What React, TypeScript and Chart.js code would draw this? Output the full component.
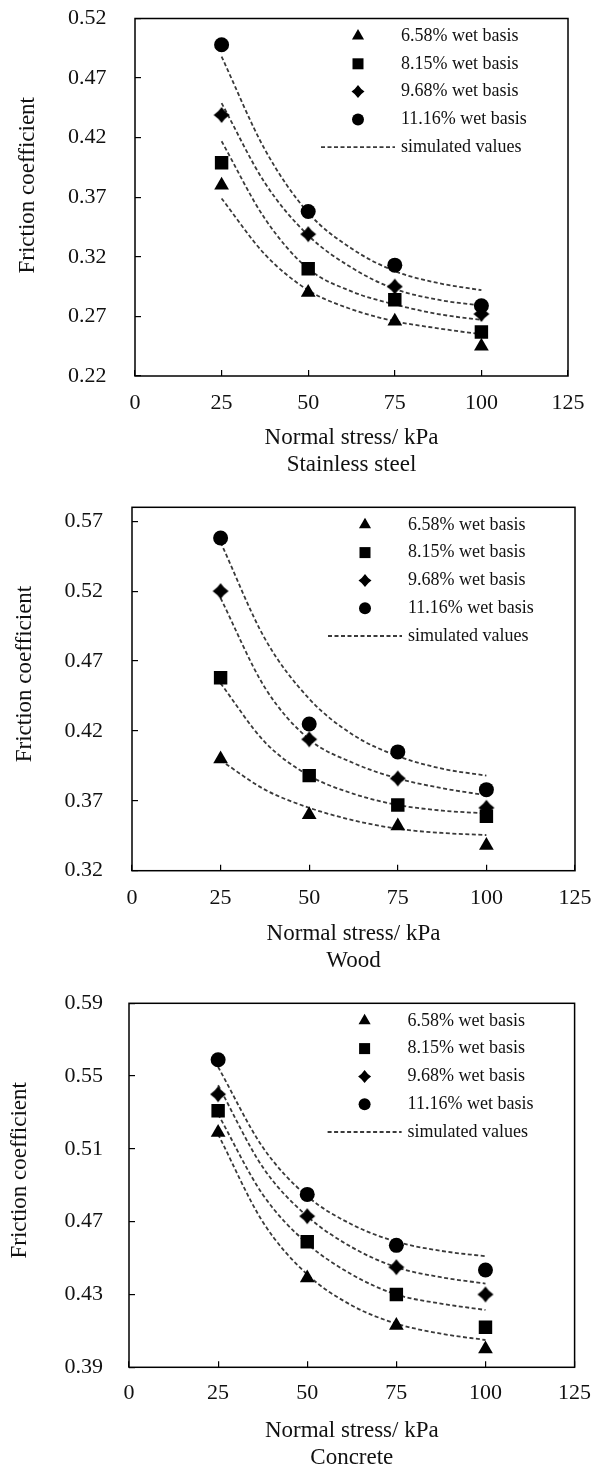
import React, { useEffect, useRef } from 'react';
import { Chart, registerables } from 'chart.js';

Chart.register(...registerables);

// ---------- data ----------
const stressX = [25, 50, 75, 100];
const simStressX = [25, 37.5, 50, 62.5, 75, 87.5, 100];
const xTickValues = [0, 25, 50, 75, 100, 125];
const seriesLabels = ['6.58% wet basis', '8.15% wet basis', '9.68% wet basis', '11.16% wet basis'];
const simLabel = 'simulated values';
const xTitle = 'Normal stress/ kPa';
const yTitle = 'Friction coefficient';

// Stainless steel
const steelYTicks = [0.22, 0.27, 0.32, 0.37, 0.42, 0.47, 0.52];
const steel658 = [0.38, 0.29, 0.266, 0.245];
const steel815 = [0.399, 0.31, 0.284, 0.257];
const steel968 = [0.439, 0.339, 0.295, 0.272];
const steel1116 = [0.498, 0.358, 0.313, 0.279];
const steelSim658 = [0.369, 0.322, 0.292, 0.276, 0.266, 0.26, 0.255];
const steelSim815 = [0.417, 0.352, 0.31, 0.291, 0.28, 0.272, 0.267];
const steelSim968 = [0.449, 0.382, 0.338, 0.311, 0.293, 0.284, 0.279];
const steelSim1116 = [0.488, 0.41, 0.357, 0.327, 0.308, 0.298, 0.292];

// Wood
const woodYTicks = [0.32, 0.37, 0.42, 0.47, 0.52, 0.57];
const wood658 = [0.4, 0.36, 0.352, 0.338];
const wood815 = [0.458, 0.388, 0.367, 0.359];
const wood968 = [0.52, 0.414, 0.386, 0.365];
const wood1116 = [0.558, 0.425, 0.405, 0.378];
const woodSim658 = [0.399, 0.378, 0.365, 0.356, 0.35, 0.347, 0.3455];
const woodSim815 = [0.454, 0.412, 0.388, 0.375, 0.367, 0.363, 0.361];
const woodSim968 = [0.515, 0.451, 0.414, 0.397, 0.386, 0.379, 0.374];
const woodSim1116 = [0.555, 0.486, 0.443, 0.417, 0.402, 0.393, 0.388];

// Concrete
const concreteYTicks = [0.39, 0.43, 0.47, 0.51, 0.55, 0.59];
const concrete658 = [0.519, 0.439, 0.413, 0.4];
const concrete815 = [0.531, 0.459, 0.43, 0.412];
const concrete968 = [0.54, 0.473, 0.445, 0.43];
const concrete1116 = [0.559, 0.485, 0.457, 0.4435];
const concreteSim658 = [0.518, 0.47, 0.441, 0.424, 0.414, 0.4085, 0.405];
const concreteSim815 = [0.529, 0.485, 0.458, 0.441, 0.43, 0.425, 0.4215];
const concreteSim968 = [0.545, 0.5, 0.473, 0.456, 0.445, 0.4395, 0.436];
const concreteSim1116 = [0.555, 0.511, 0.484, 0.4685, 0.459, 0.454, 0.451];

// ---------- panels (layout) ----------
const panels = [
  {
    key: 'steel', material: 'Stainless steel', yTicks: steelYTicks, yMin: 0.22, yMax: 0.52,
    points: [steel658, steel815, steel968, steel1116],
    sims: [steelSim658, steelSim815, steelSim968, steelSim1116],
    top: 0, height: 480, padTop: 18.5, padRight: 26, yWidth: 135, xHeight: 104,
    xTickPad: 19.8, xTitlePadBottom: 1.5, yTickPad: 34.5, yTitleX: 28, yTitleShift: -12,
  },
  {
    key: 'wood', material: 'Wood', yTicks: woodYTicks, yMin: 0.32, yMax: 0.58,
    points: [wood658, wood815, wood968, wood1116],
    sims: [woodSim658, woodSim815, woodSim968, woodSim1116],
    top: 480, height: 500, padTop: 27.3, padRight: 19, yWidth: 132, xHeight: 109.3,
    xTickPad: 20.1, xTitlePadBottom: 5.5, yTickPad: 35, yTitleX: 25, yTitleShift: -15,
  },
  {
    key: 'concrete', material: 'Concrete', yTicks: concreteYTicks, yMin: 0.39, yMax: 0.59,
    points: [concrete658, concrete815, concrete968, concrete1116],
    sims: [concreteSim658, concreteSim815, concreteSim968, concreteSim1116],
    top: 980, height: 487, padTop: 23.3, padRight: 19.4, yWidth: 129, xHeight: 99.7,
    xTickPad: 18.5, xTitlePadBottom: -4, yTickPad: 32, yTitleX: 20, yTitleShift: -15,
  },
];

const FONT = "'Liberation Serif', 'Times New Roman', serif";
const TEXT = '#111';
const SIM_COLOR = '#3a3a3a';
const markerKinds = ['triangle', 'rect', 'star', 'circle'];
const pointRadii = [8.5, 9.5, 8, 7.5];
const legendRadii = [7, 5.5, 6.5, 6];

function starPath(ctx: CanvasRenderingContext2D, x: number, y: number, r: number) {
  const k = r * 0.4;
  ctx.moveTo(x, y - r);
  ctx.quadraticCurveTo(x + k, y - k, x + r, y);
  ctx.quadraticCurveTo(x + k, y + k, x, y + r);
  ctx.quadraticCurveTo(x - k, y + k, x - r, y);
  ctx.quadraticCurveTo(x - k, y - k, x, y - r);
  ctx.closePath();
}

function makeStarCanvas(r: number): HTMLCanvasElement {
  const c = document.createElement('canvas');
  const size = Math.ceil(2 * r + 2);
  c.width = size;
  c.height = size;
  const ctx = c.getContext('2d') as CanvasRenderingContext2D;
  ctx.fillStyle = '#000';
  ctx.beginPath();
  starPath(ctx, size / 2, size / 2, r);
  ctx.fill();
  return c;
}

function drawMarker(ctx: CanvasRenderingContext2D, style: string, x: number, y: number, r: number) {
  ctx.beginPath();
  if (style === 'triangle') {
    ctx.moveTo(x, y - r);
    ctx.lineTo(x + 0.866 * r, y + 0.5 * r);
    ctx.lineTo(x - 0.866 * r, y + 0.5 * r);
    ctx.closePath();
  } else if (style === 'rect') {
    ctx.rect(x - r, y - r, 2 * r, 2 * r);
  } else if (style === 'star') {
    starPath(ctx, x, y, r);
  } else {
    ctx.arc(x, y, r, 0, Math.PI * 2);
  }
  ctx.fill();
}

function makeFramePlugin(p: any) {
  return {
    id: 'frameLegend',
    afterDraw(chart: any) {
      const { ctx, chartArea: a } = chart;
      ctx.save();
      ctx.strokeStyle = '#000';
      ctx.lineWidth = 1.5;
      ctx.strokeRect(a.left, a.top, a.right - a.left, a.bottom - a.top);

      // y axis title
      ctx.save();
      ctx.translate(p.yTitleX, (a.top + a.bottom) / 2 + p.yTitleShift);
      ctx.rotate(-Math.PI / 2);
      ctx.fillStyle = TEXT;
      ctx.font = `23px ${FONT}`;
      ctx.textAlign = 'center';
      ctx.textBaseline = 'middle';
      ctx.fillText(yTitle, 0, 0);
      ctx.restore();

      // legend
      const mx = a.right - 210;
      const tx = a.right - 167;
      ctx.font = `18px ${FONT}`;
      ctx.textAlign = 'left';
      ctx.textBaseline = 'middle';
      for (let i = 0; i < 4; i++) {
        const y = a.top + 17.5 + 27.8 * i;
        ctx.fillStyle = '#000';
        drawMarker(ctx, markerKinds[i], mx, y, legendRadii[i]);
        ctx.fillStyle = TEXT;
        ctx.fillText(seriesLabels[i], tx, y);
      }
      const y = a.top + 17.5 + 27.8 * 4;
      ctx.strokeStyle = SIM_COLOR;
      ctx.lineWidth = 1.8;
      ctx.setLineDash([4, 2.5]);
      ctx.beginPath();
      ctx.moveTo(a.right - 247, y);
      ctx.lineTo(a.right - 173, y);
      ctx.stroke();
      ctx.setLineDash([]);
      ctx.fillStyle = TEXT;
      ctx.fillText(simLabel, tx, y);
      ctx.restore();
    },
  };
}

function buildConfig(p: any): any {
  const starImg = makeStarCanvas(pointRadii[2]);
  const pointStyles: any[] = ['triangle', 'rect', starImg, 'circle'];
  const datasets: any[] = [];
  p.points.forEach((ys: number[], i: number) => {
    datasets.push({
      label: seriesLabels[i],
      data: stressX.map((x, j) => ({ x, y: ys[j] })),
      pointStyle: pointStyles[i],
      pointRadius: pointRadii[i],
      backgroundColor: '#000',
      borderColor: '#000',
      borderWidth: 0,
      showLine: false,
      order: 0,
    });
  });
  p.sims.forEach((ys: number[]) => {
    datasets.push({
      label: simLabel,
      data: simStressX.map((x, j) => ({ x, y: ys[j] })),
      showLine: true,
      borderColor: SIM_COLOR,
      borderWidth: 1.8,
      borderDash: [4, 2.5],
      pointRadius: 0,
      cubicInterpolationMode: 'monotone',
      fill: false,
      order: 1,
    });
  });

  const tickGrid = {
    display: true,
    drawOnChartArea: false,
    drawTicks: true,
    tickLength: -6,
    color: '#000',
    lineWidth: 1.2,
  };

  return {
    type: 'scatter',
    data: { datasets },
    plugins: [makeFramePlugin(p)],
    options: {
      responsive: false,
      animation: false,
      events: [],
      layout: { padding: { top: p.padTop, right: p.padRight, left: 0, bottom: 0 } },
      plugins: {
        legend: { display: false },
        tooltip: { enabled: false },
        title: { display: false },
      },
      scales: {
        x: {
          type: 'linear',
          position: 'bottom',
          min: 0,
          max: 125,
          afterBuildTicks: (s: any) => {
            s.ticks = xTickValues.map((v) => ({ value: v }));
          },
          afterFit: (s: any) => {
            s.height = p.xHeight;
            s.paddingLeft = 0;
            s.paddingRight = 0;
            s.paddingTop = 0;
            s.paddingBottom = 0;
          },
          ticks: {
            color: TEXT,
            font: { family: FONT, size: 22 },
            padding: p.xTickPad,
            maxRotation: 0,
            autoSkip: false,
            callback: (v: number) => String(v),
          },
          grid: tickGrid,
          border: { display: false },
          title: {
            display: true,
            text: [xTitle, p.material],
            color: TEXT,
            font: { family: FONT, size: 23, lineHeight: 27 / 23 },
            padding: { top: 0, bottom: p.xTitlePadBottom },
          },
        },
        y: {
          type: 'linear',
          position: 'left',
          min: p.yMin,
          max: p.yMax,
          afterBuildTicks: (s: any) => {
            s.ticks = p.yTicks.map((v: number) => ({ value: v }));
          },
          afterFit: (s: any) => {
            s.width = p.yWidth;
            s.paddingLeft = 0;
            s.paddingRight = 0;
            s.paddingTop = 0;
            s.paddingBottom = 0;
          },
          ticks: {
            color: TEXT,
            font: { family: FONT, size: 22 },
            padding: p.yTickPad,
            autoSkip: false,
            callback: (v: number) => v.toFixed(2),
          },
          grid: tickGrid,
          border: { display: false },
          title: { display: false },
        },
      },
    },
  };
}

function Panel({ p }: { p: any }) {
  const ref = useRef<HTMLCanvasElement | null>(null);
  useEffect(() => {
    if (!ref.current) return;
    const chart = new Chart(ref.current, buildConfig(p));
    return () => chart.destroy();
  }, [p]);
  return (
    <canvas
      ref={ref}
      width={594}
      height={p.height}
      style={{ position: 'absolute', left: 0, top: p.top, width: 594, height: p.height, display: 'block' }}
    />
  );
}

export default function App() {
  return (
    <div style={{ position: 'absolute', left: 0, top: 0, width: 594, height: 1467, background: '#fff', overflow: 'hidden' }}>
      {panels.map((p) => (
        <Panel key={p.key} p={p} />
      ))}
    </div>
  );
}
